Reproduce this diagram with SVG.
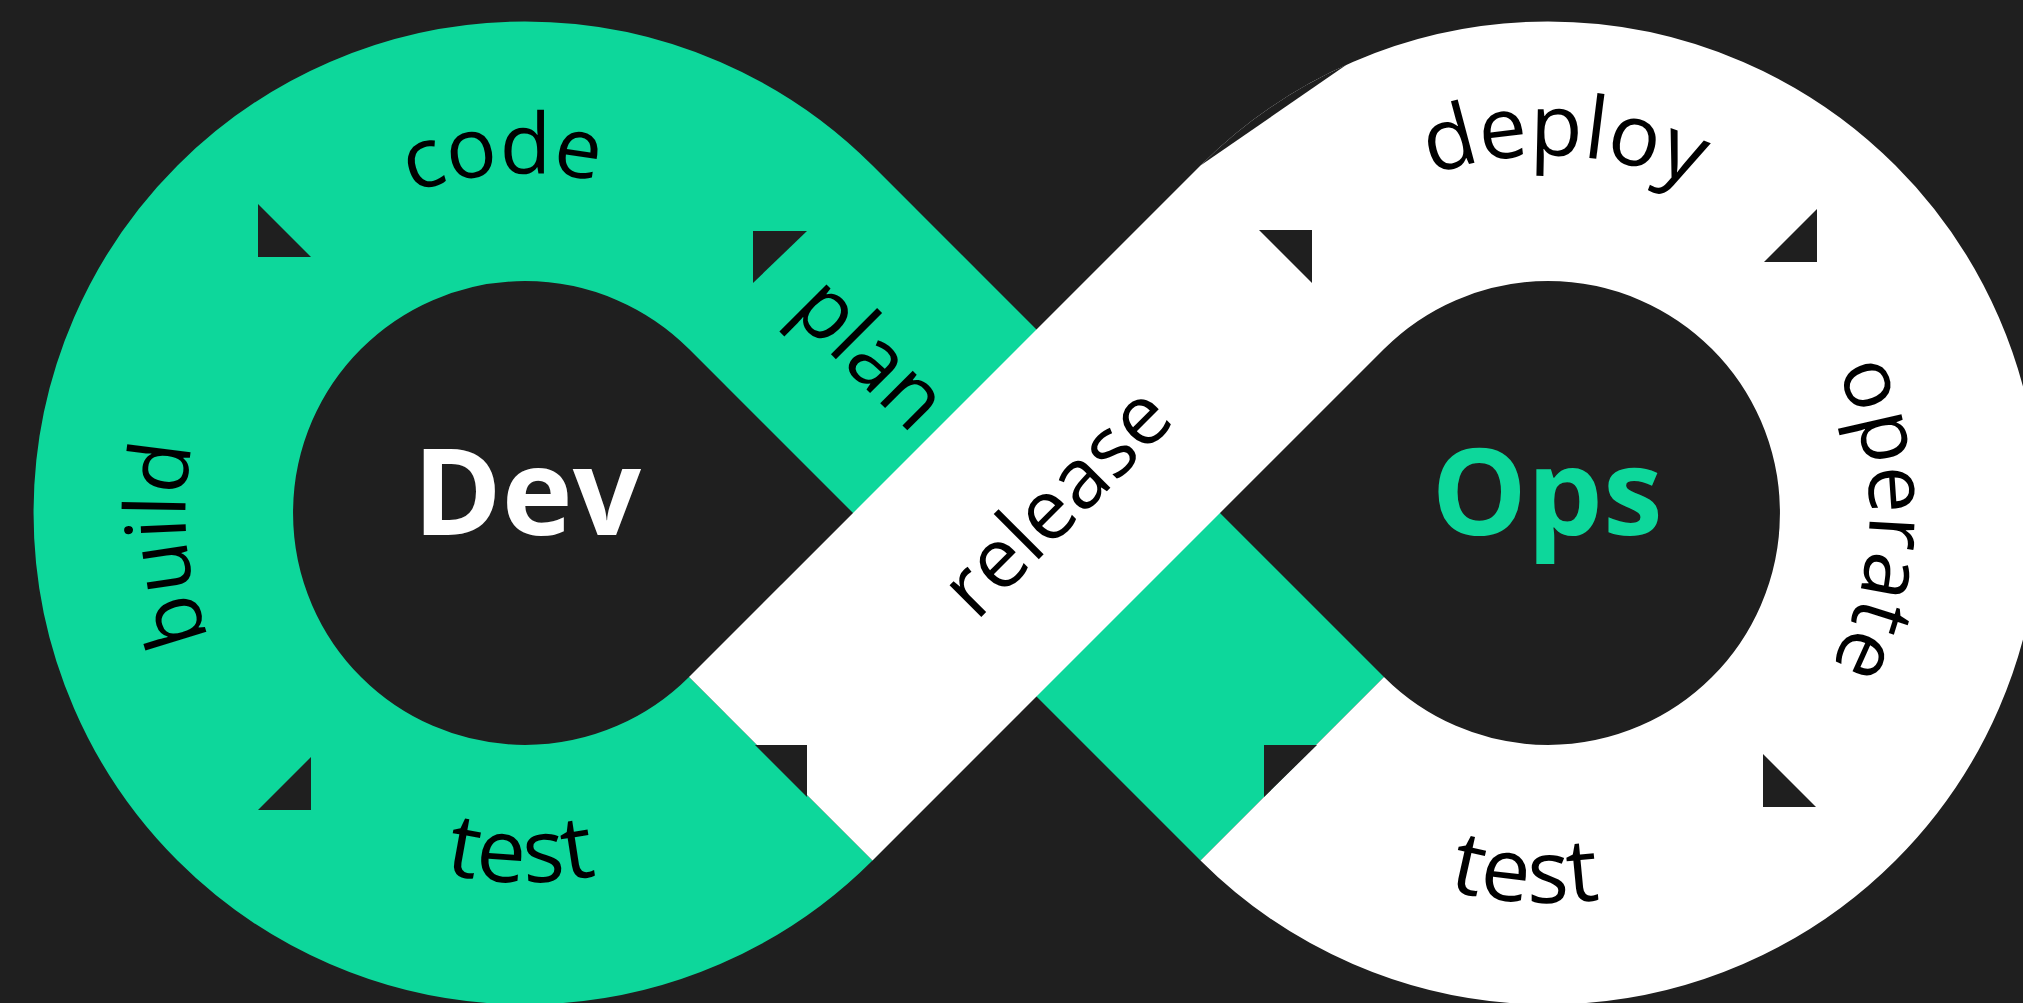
<svg xmlns="http://www.w3.org/2000/svg" width="2023" height="1003" viewBox="0 0 2023 1003">
<style>
.bg{fill:#1f1f1f}
.band{fill:none;stroke-width:259.5;stroke-linecap:butt}
.green{stroke:#0dd79b}
.white{stroke:#ffffff}
.tri{fill:#1f1f1f}
.lbl{font-family:"Open Sans","DejaVu Sans",sans-serif;font-size:84px;fill:#000000;text-anchor:middle}
.big{font-size:88px}
.mid{font-size:86px}
.hub{font-family:"Open Sans","DejaVu Sans",sans-serif;font-size:120px;font-weight:700;text-anchor:middle}
</style>
<defs>
<path id="cwL" d="M525,852.5 A339.5,339.5 0 1,1 525,173.5 A339.5,339.5 0 1,1 525,852.5"/>
<path id="ccwL" d="M525,143.5 A369.5,369.5 0 1,0 525,882.5 A369.5,369.5 0 1,0 525,143.5"/>
<path id="cwR1" d="M1548,870.5 A357.5,357.5 0 1,1 1548,155.5 A357.5,357.5 0 1,1 1548,870.5"/>
<path id="cwR2" d="M1548,834.5 A321.5,321.5 0 1,1 1548,191.5 A321.5,321.5 0 1,1 1548,834.5"/>
<path id="ccwR" d="M1548,123 A390,390 0 1,0 1548,903 A390,390 0 1,0 1548,123"/>
</defs>
<rect class="bg" x="0" y="0" width="2023" height="1003"/>
<g id="dev">
<path class="band green" d="M1292.24,768.76 L780.76,257.24 A361.7,361.7 0 1,0 780.76,768.76"/>
<text class="hub" x="527" y="535" fill="#ffffff">Dev</text>
</g>
<g id="ops">
<path class="band white" d="M780.76,768.76 L1292.24,257.24 A361.7,361.7 0 1,1 1292.24,768.76"/>
<path class="tri" d="M1200.5,165.5 L1346.5,64.8 A491.5,491.5 0 0,0 1200.5,165.5 Z"/>
<text class="hub" x="1547" y="535" fill="#0dd79b">Ops</text>
</g>
<g id="connectors">
<polygon class="tri" points="258,204 258,257 311,257"/>
<polygon class="tri" points="753,231 807,231 753,283"/>
<polygon class="tri" points="755,745 807,745 807,797"/>
<polygon class="tri" points="258,810 311,757 311,810"/>
<polygon class="tri" points="1259,230 1312,230 1312,283"/>
<polygon class="tri" points="1764,262 1817,209 1817,262"/>
<polygon class="tri" points="1763,754 1763,807 1816,807"/>
<polygon class="tri" points="1264,745 1317,745 1264,797"/>
</g>
<g id="code"><text class="lbl"><textPath href="#cwL" startOffset="49%">code</textPath></text></g>
<g id="build"><text class="lbl"><textPath href="#cwL" startOffset="23.6%">build</textPath></text></g>
<g id="test-dev"><text class="lbl big"><textPath href="#ccwL" startOffset="49.8%">test</textPath></text></g>
<g id="plan"><text class="lbl mid" transform="translate(866,358) rotate(45)" x="0" y="22">plan</text></g>
<g id="release"><text class="lbl" transform="translate(1061,506) rotate(-45)" x="0" y="22">release</text></g>
<g id="deploy"><text class="lbl mid"><textPath href="#cwR1" startOffset="50.7%">deploy</textPath></text></g>
<g id="operate"><text class="lbl"><textPath href="#cwR2" startOffset="75.3%">operate</textPath></text></g>
<g id="test-ops"><text class="lbl big"><textPath href="#ccwR" startOffset="49%">test</textPath></text></g>
</svg>
